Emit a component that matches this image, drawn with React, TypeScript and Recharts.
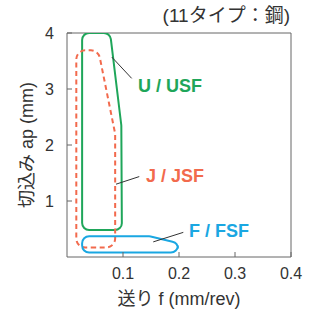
import { ComposedChart, Line, XAxis, YAxis, ReferenceLine, ReferenceDot } from "recharts";

// outlines of each grade's recommended range (feed f, depth of cut ap)
const uFeed = [0.027, 0.027, 0.077, 0.097, 0.098];
const uDepth = [0.48, 4.0, 4.0, 2.35, 0.48];
const jFeed = [0.0166, 0.0166, 0.056, 0.086, 0.086];
const jDepth = [0.17, 3.69, 3.69, 2.2, 0.17];
const fFeed = [0.027, 0.027, 0.148, 0.198, 0.198];
const fDepth = [0.08, 0.37, 0.37, 0.25, 0.08];

const xTicks = [0.1, 0.2, 0.3, 0.4];
const yTicks = [1, 2, 3, 4];

const GREEN = "#1fa65a";
const ORANGE = "#f26a4d";
const BLUE = "#1aa7e2";
const AXIS = "#666";
const FONT = "'Liberation Sans', Arial, 'Noto Sans CJK JP', sans-serif";

const toRows = (fs: number[], aps: number[]) => fs.map((f, i) => ({ f, ap: aps[i] }));

// closed polygon with rounded corners, points already scaled by recharts
function roundedClosed(r: number) {
  return (context: any) => {
    let pts: [number, number][] = [];
    return {
      areaStart() {},
      areaEnd() {},
      lineStart() {
        pts = [];
      },
      point(x: number, y: number) {
        pts.push([x, y]);
      },
      lineEnd() {
        const n = pts.length;
        if (n < 3) return;
        const a = pts[n - 1];
        const b = pts[0];
        context.moveTo((a[0] + b[0]) / 2, (a[1] + b[1]) / 2);
        for (let i = 0; i < n; i++) {
          const p = pts[i];
          const q = pts[(i + 1) % n];
          context.arcTo(p[0], p[1], (p[0] + q[0]) / 2, (p[1] + q[1]) / 2, r);
        }
        context.closePath();
      },
    };
  };
}

const labelStyle = { fontSize: 18, fontWeight: "bold" as const, position: "right" as const, offset: 0 };

export default function App() {
  return (
    <div style={{ position: "absolute", left: 0, top: 0, width: 312, height: 316, fontFamily: FONT }}>
      <div
        style={{
          position: "absolute",
          right: 22,
          top: 5,
          fontSize: 19,
          lineHeight: "22px",
          color: "#333",
          whiteSpace: "nowrap",
        }}
      >
        (11タイプ：鋼)
      </div>
      <ComposedChart
        width={312}
        height={316}
        margin={{ top: 33, right: 21, bottom: 9, left: 7 }}
        style={{ fontFamily: FONT }}
      >
        <XAxis
          type="number"
          dataKey="f"
          domain={[0, 0.4]}
          ticks={xTicks}
          allowDataOverflow
          height={50}
          tickSize={-5}
          tickMargin={16}
          stroke={AXIS}
          tick={{ fontSize: 16, fill: "#333" }}
          label={{ value: "送り f (mm/rev)", position: "insideBottom", offset: 2, fontSize: 18, fill: "#333" }}
        />
        <YAxis
          type="number"
          dataKey="ap"
          domain={[0, 4]}
          ticks={yTicks}
          allowDataOverflow
          width={60}
          tickSize={-5}
          tickMargin={18}
          stroke={AXIS}
          tick={{ fontSize: 16, fill: "#333" }}
          label={{ value: "切込み ap (mm)", angle: -90, position: "center", dx: -10, fontSize: 18, fill: "#333" }}
        />
        <ReferenceLine y={4} stroke={AXIS} />
        <ReferenceLine x={0.4} stroke={AXIS} />

        <Line
          data={toRows(uFeed, uDepth)}
          dataKey="ap"
          type={roundedClosed(7) as any}
          stroke={GREEN}
          strokeWidth={2}
          fill="none"
          dot={false}
          activeDot={false}
          isAnimationActive={false}
        />
        <Line
          data={toRows(jFeed, jDepth)}
          dataKey="ap"
          type={roundedClosed(9) as any}
          stroke={ORANGE}
          strokeWidth={2}
          strokeDasharray="5 3.5"
          fill="none"
          dot={false}
          activeDot={false}
          isAnimationActive={false}
        />
        <Line
          data={toRows(fFeed, fDepth)}
          dataKey="ap"
          type={roundedClosed(7) as any}
          stroke={BLUE}
          strokeWidth={2}
          fill="none"
          dot={false}
          activeDot={false}
          isAnimationActive={false}
        />

        <ReferenceLine segment={[{ x: 0.08, y: 3.57 }, { x: 0.1155, y: 3.19 }]} stroke="#333" strokeWidth={1} ifOverflow="visible" />
        <ReferenceLine segment={[{ x: 0.0875, y: 1.3 }, { x: 0.129, y: 1.436 }]} stroke="#333" strokeWidth={1} ifOverflow="visible" />
        <ReferenceLine segment={[{ x: 0.154, y: 0.27 }, { x: 0.2077, y: 0.44 }]} stroke="#333" strokeWidth={1} ifOverflow="visible" />

        <ReferenceDot x={0.127} y={3.065} r={0} ifOverflow="visible" label={{ value: "U / USF", fill: GREEN, ...labelStyle }} />
        <ReferenceDot x={0.141} y={1.45} r={0} ifOverflow="visible" label={{ value: "J / JSF", fill: ORANGE, ...labelStyle }} />
        <ReferenceDot x={0.218} y={0.47} r={0} ifOverflow="visible" label={{ value: "F / FSF", fill: BLUE, ...labelStyle }} />
      </ComposedChart>
    </div>
  );
}
